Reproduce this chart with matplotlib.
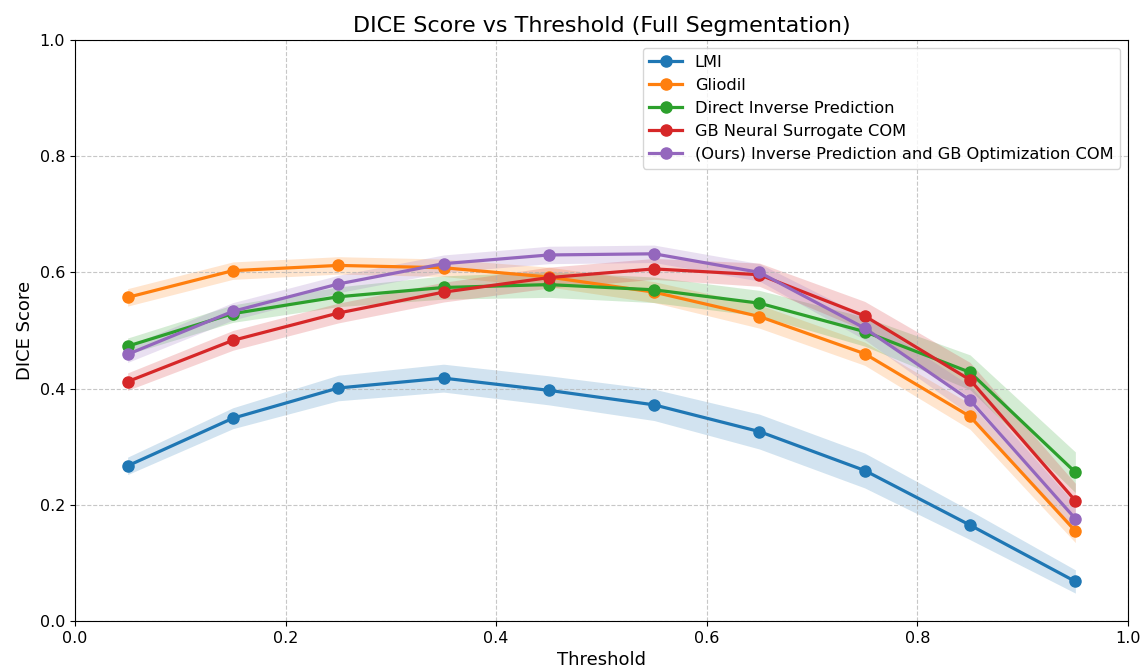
import numpy as np
import matplotlib
matplotlib.use('Agg')
import matplotlib.pyplot as plt

# Thresholds and mean DICE per method
thresholds = [0.05, 0.15, 0.25, 0.35, 0.45, 0.55, 0.65, 0.75, 0.85, 0.95]
methods = ['LMI', 'Gliodil', 'Direct Inverse Prediction', 'GB Neural Surrogate COM',
           '(Ours) Inverse Prediction and GB Optimization COM']
lmi = [0.267, 0.349, 0.401, 0.418, 0.397, 0.372, 0.326, 0.259, 0.165, 0.068]
gliodil = [0.557, 0.603, 0.612, 0.608, 0.592, 0.566, 0.524, 0.460, 0.352, 0.155]
direct = [0.473, 0.529, 0.558, 0.574, 0.579, 0.570, 0.547, 0.498, 0.428, 0.256]
gb_neural = [0.412, 0.483, 0.530, 0.566, 0.591, 0.606, 0.596, 0.525, 0.415, 0.207]
ours = [0.459, 0.533, 0.580, 0.615, 0.630, 0.632, 0.600, 0.504, 0.380, 0.176]

# Half-width of the shaded band around each line
lmi_err = [0.015, 0.018, 0.022, 0.024, 0.025, 0.027, 0.030, 0.030, 0.025, 0.020]
gliodil_err = [0.015, 0.015, 0.015, 0.015, 0.017, 0.018, 0.020, 0.020, 0.022, 0.020]
direct_err = [0.014, 0.015, 0.017, 0.020, 0.022, 0.022, 0.022, 0.025, 0.030, 0.035]
gb_neural_err = [0.015, 0.017, 0.017, 0.017, 0.018, 0.018, 0.020, 0.025, 0.030, 0.030]
ours_err = [0.014, 0.015, 0.015, 0.015, 0.015, 0.015, 0.015, 0.020, 0.025, 0.025]

means = [lmi, gliodil, direct, gb_neural, ours]
errs = [lmi_err, gliodil_err, direct_err, gb_neural_err, ours_err]
colors = ['tab:blue', 'tab:orange', 'tab:green', 'tab:red', 'tab:purple']

fig, ax = plt.subplots(figsize=(11.46, 6.72), dpi=100)
fig.subplots_adjust(left=0.0654, right=0.9843, top=0.9405, bottom=0.0759)

x = np.array(thresholds)
for name, m, e, c in zip(methods, means, errs, colors):
    m = np.array(m)
    e = np.array(e)
    ax.plot(x, m, marker='o', color=c, linewidth=2.3, markersize=8, label=name)
    ax.fill_between(x, m - e, m + e, color=c, alpha=0.2, linewidth=0)

ax.set_xlim(0, 1)
ax.set_ylim(0, 1)
ax.set_xlabel('Threshold', fontsize=13)
ax.set_ylabel('DICE Score', fontsize=13)
ax.set_title('DICE Score vs Threshold (Full Segmentation)', fontsize=16)
ax.tick_params(labelsize=11.5)
ax.grid(True, linestyle='--', alpha=0.7)
ax.legend(loc='upper right', fontsize=11.7)

plt.savefig('out.png', dpi=100)
